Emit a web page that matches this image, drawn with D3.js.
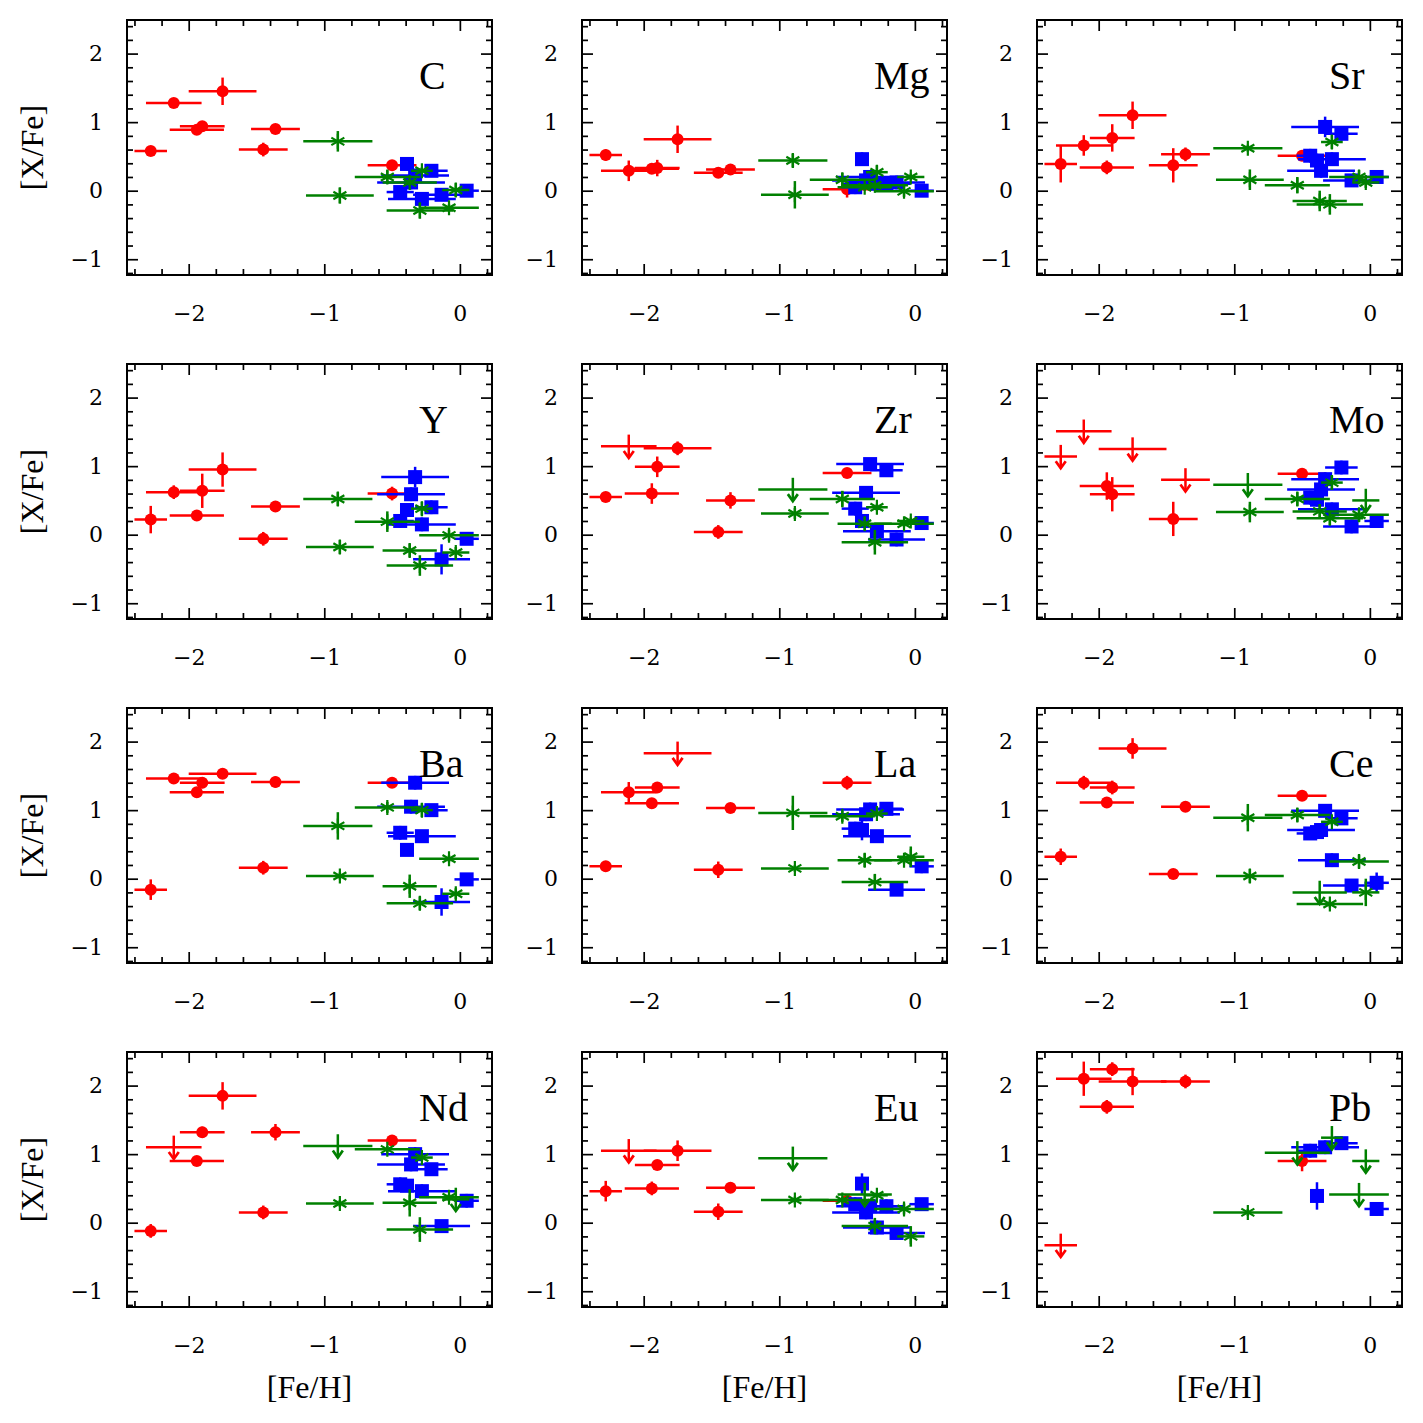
<!DOCTYPE html>
<html>
<head>
<meta charset="utf-8">
<script src="https://cdn.jsdelivr.net/npm/d3@7"></script>
<style>
body { margin: 0; background: #fff; }
text { font-family: "Liberation Serif", "DejaVu Serif", serif; fill: #000; }
</style>
</head>
<body>
<div id="chart"></div>
<script>
const elements = ["C", "Mg", "Sr", "Y", "Zr", "Mo", "Ba", "La", "Ce", "Nd", "Eu", "Pb"]

// [Fe/H] of each star in the three groups
const redFeH = [-2.28, -2.11, -1.94, -1.90, -1.75, -1.45, -1.36, -0.50]
const redFeHErr = [0.12, 0.205, 0.20, 0.165, 0.25, 0.18, 0.18, 0.18]
const greenFeH = [-0.90, -0.885, -0.535, -0.37, -0.295, -0.28, -0.08, -0.03]
const greenFeHErr = [0.255, 0.25, 0.24, 0.20, 0.245, 0.08, 0.22, 0.10]
const blueFeH = [-0.44, -0.39, -0.36, -0.33, -0.28, -0.21, -0.135, 0.05]
const blueFeHErr = [0.10, 0.05, 0.25, 0.25, 0.25, 0.12, 0.21, 0.09]

// [X/Fe], one row per element (same order as elements), null = no value
const redXFe = [
    [0.58, 1.28, 0.89, 0.94, 1.45, 0.60, 0.90, 0.37],
    [0.52, 0.29, 0.32, 0.33, 0.75, 0.26, 0.31, 0.02],
    [0.39, 0.66, 0.34, 0.77, 1.10, 0.37, 0.53, 0.51],
    [0.22, 0.62, 0.28, 0.64, 0.95, -0.06, 0.41, 0.60],
    [0.55, 1.29, 0.60, 0.99, 1.26, 0.04, 0.50, 0.90],
    [1.14, 1.51, 0.71, 0.59, 1.25, 0.23, 0.80, 0.89],
    [-0.16, 1.46, 1.26, 1.40, 1.53, 0.16, 1.41, 1.40],
    [0.18, 1.26, 1.10, 1.33, 1.83, 0.13, 1.03, 1.40],
    [0.32, 1.40, 1.11, 1.33, 1.90, 0.07, 1.05, 1.21],
    [-0.12, 1.10, 0.90, 1.32, 1.85, 0.15, 1.32, 1.20],
    [0.46, 1.05, 0.50, 0.84, 1.05, 0.16, 0.51, 0.32],
    [-0.33, 2.10, 1.69, 2.24, 2.06, null, 2.06, 0.90]
]
const redXFeErr = [
    [0.05, 0.05, 0.05, 0.05, 0.20, 0.10, 0.05, 0.05],
    [0.08, 0.15, 0.05, 0.12, 0.20, 0.05, 0.05, 0.12],
    [0.27, 0.15, 0.10, 0.20, 0.20, 0.25, 0.10, 0.05],
    [0.20, 0.10, 0.05, 0.25, 0.25, 0.10, 0.05, 0.10],
    [0.05, 0.17, 0.15, 0.15, 0.10, 0.10, 0.12, 0.05],
    [0.17, 0.17, 0.20, 0.25, 0.17, 0.25, 0.17, 0.07],
    [0.15, 0.05, 0.05, 0.08, 0.05, 0.10, 0.08, 0.05],
    [0.05, 0.15, 0.05, 0.08, 0.17, 0.12, 0.05, 0.10],
    [0.12, 0.10, 0.05, 0.10, 0.15, 0.05, 0.05, 0.05],
    [0.10, 0.17, 0.05, 0.08, 0.20, 0.10, 0.12, 0.05],
    [0.15, 0.17, 0.10, 0.05, 0.15, 0.12, 0.05, 0.05],
    [0.17, 0.25, 0.10, 0.10, 0.20, 0, 0.10, 0.15]
]
const redLimits = [[], [], [], [], [1], [0, 1, 4, 6], [], [4], [], [1], [1], [0]]

const greenXFe = [
    [0.72, -0.07, 0.20, 0.12, -0.29, 0.29, -0.25, 0.01],
    [0.44, -0.06, 0.16, 0.05, 0.08, 0.27, -0.01, 0.20],
    [0.62, 0.16, 0.08, -0.15, -0.20, 0.71, 0.20, 0.12],
    [0.52, -0.18, 0.19, -0.23, -0.45, 0.38, -0.01, -0.26],
    [0.66, 0.31, 0.52, 0.16, -0.11, 0.40, 0.16, 0.20],
    [0.73, 0.33, 0.52, 0.34, 0.24, 0.76, 0.29, 0.50],
    [0.77, 0.04, 1.04, -0.11, -0.36, 1.00, 0.29, -0.22],
    [0.96, 0.15, 0.91, 0.27, -0.05, 0.95, 0.27, 0.32],
    [0.89, 0.04, 0.93, -0.20, -0.37, 0.83, 0.25, -0.20],
    [1.12, 0.28, 1.07, 0.29, -0.10, 0.95, 0.37, 0.34],
    [0.94, 0.33, 0.33, 0.41, -0.05, 0.40, 0.20, -0.20],
    [0.15, null, 1.02, null, null, 1.24, 0.41, 0.90]
]
const greenXFeErr = [
    [0.15, 0.12, 0.10, 0.05, 0.12, 0.05, 0.05, 0.10],
    [0.10, 0.20, 0.10, 0.05, 0.05, 0.10, 0.08, 0.05],
    [0.05, 0.15, 0.12, 0.15, 0.15, 0.10, 0.10, 0.08],
    [0.10, 0.10, 0.15, 0.10, 0.15, 0.10, 0.08, 0.08],
    [0.17, 0.08, 0.12, 0.10, 0.18, 0.05, 0.05, 0.05],
    [0.17, 0.15, 0.10, 0.10, 0.10, 0.10, 0.10, 0.17],
    [0.20, 0.05, 0.08, 0.17, 0.10, 0.10, 0.05, 0.08],
    [0.25, 0.05, 0.08, 0.10, 0.12, 0.05, 0.05, 0.15],
    [0.20, 0.10, 0.10, 0.17, 0.05, 0.05, 0.10, 0.20],
    [0.17, 0.05, 0.05, 0.20, 0.18, 0.05, 0.05, 0.17],
    [0.17, 0.05, 0.05, 0.17, 0.12, 0.05, 0.08, 0.15],
    [0.05, 0, 0.17, 0, 0, 0.17, 0.17, 0.17]
]
const greenLimits = [[], [], [], [], [0], [0, 7], [], [], [3], [0, 7], [0, 3], [2, 5, 6, 7]]

const blueXFe = [
    [-0.02, 0.39, 0.12, 0.22, -0.12, 0.29, -0.06, 0.00],
    [0.05, 0.46, 0.15, 0.20, 0.10, 0.10, 0.12, 0.00],
    [0.51, 0.44, 0.29, 0.93, 0.46, 0.83, 0.15, 0.20],
    [0.20, 0.36, 0.59, 0.84, 0.15, 0.40, -0.36, -0.06],
    [0.38, 0.20, 0.61, 1.03, 0.05, 0.94, -0.07, 0.17],
    [0.54, 0.51, 0.66, 0.81, 0.37, 0.98, 0.12, 0.20],
    [0.67, 0.42, 1.05, 1.40, 0.62, 1.00, -0.34, -0.01],
    [0.73, 0.71, 0.94, 1.01, 0.62, 1.02, -0.16, 0.18],
    [0.66, 0.68, 0.71, 0.99, 0.27, 0.88, -0.10, -0.06],
    [0.56, 0.54, 0.85, 1.00, 0.46, 0.78, -0.05, 0.32],
    [0.27, 0.57, 0.15, 0.24, -0.07, 0.24, -0.15, 0.27],
    [1.05, 0.39, null, 1.10, null, 1.16, null, 0.20]
]
const blueXFeErr = [
    [0.05, 0.05, 0.10, 0.10, 0.08, 0.05, 0.05, 0.05],
    [0.10, 0.10, 0.10, 0.10, 0.10, 0.10, 0.10, 0.05],
    [0.10, 0.10, 0.10, 0.15, 0.10, 0.10, 0.08, 0.05],
    [0.10, 0.10, 0.10, 0.15, 0.10, 0.10, 0.22, 0.05],
    [0.10, 0.05, 0.10, 0.08, 0.10, 0.05, 0.10, 0.05],
    [0.10, 0.10, 0.10, 0.10, 0.10, 0.10, 0.10, 0.05],
    [0.10, 0.05, 0.10, 0.10, 0.05, 0.05, 0.20, 0.05],
    [0.10, 0.15, 0.10, 0.10, 0.05, 0.05, 0.05, 0.10],
    [0.05, 0.10, 0.10, 0.05, 0.10, 0.05, 0.05, 0.15],
    [0.10, 0.05, 0.10, 0.10, 0.10, 0.05, 0.05, 0.10],
    [0.10, 0.15, 0.10, 0.10, 0.10, 0.10, 0.05, 0.05],
    [0.10, 0.20, 0, 0.10, 0, 0.10, 0, 0.10]
]
const blueLimits = [[], [], [], [], [], [], [], [], [], [], [], []]

const xTicks = [-2, -1, 0]
const yTicks = [-1, 0, 1, 2]

const panelW = 365, panelH = 255
const colStep = 455, rowStep = 344
const padLeft = 127, padTop = 20

const svg = d3.select("#chart")
    .append("svg")
    .attr("width", 1423)
    .attr("height", 1423)

const x = d3.scaleLinear().domain([-2.455, 0.237]).range([0, panelW])
const y = d3.scaleLinear().domain([-1.23, 2.49]).range([panelH, 0])

const xMinor = d3.range(-2.4, 0.21, 0.2).filter(v => Math.abs(v - Math.round(v)) > 0.01)
const yMinor = d3.range(-1.2, 2.41, 0.2).filter(v => Math.abs(v - Math.round(v)) > 0.01)

function asterisk(r){
    let p = ""
    ;[90, 30, 150].forEach(a => {
        const dx = r * Math.cos(a * Math.PI / 180), dy = r * Math.sin(a * Math.PI / 180)
        p += `M${-dx},${-dy}L${dx},${dy}`
    })
    return p
}

function drawSeries(g, feh, fehErr, vals, errs, limits, color, marker){
    const pts = vals.map((v, i) => ({x: feh[i], xe: fehErr[i], y: v, ye: errs[i], ul: limits.includes(i)}))
        .filter(d => d.y !== null)

    const s = g.append("g")
    // horizontal error bars
    s.selectAll(".xerr").data(pts).enter()
        .append("line")
        .attr("x1", d => x(d.x - d.xe))
        .attr("x2", d => x(d.x + d.xe))
        .attr("y1", d => y(d.y))
        .attr("y2", d => y(d.y))
        .attr("stroke", color)
        .attr("stroke-width", 2.5)
    // vertical error bars
    s.selectAll(".yerr").data(pts).enter()
        .append("line")
        .attr("x1", d => x(d.x))
        .attr("x2", d => x(d.x))
        .attr("y1", d => y(d.y + d.ye))
        .attr("y2", d => y(d.y - d.ye))
        .attr("stroke", color)
        .attr("stroke-width", 2.5)
    // upper limits get an arrow head
    s.selectAll(".ul").data(pts.filter(d => d.ul)).enter()
        .append("path")
        .attr("transform", d => `translate(${x(d.x)},${y(d.y - d.ye)})`)
        .attr("d", "M-5,-7L0,0L5,-7")
        .attr("fill", "none")
        .attr("stroke", color)
        .attr("stroke-width", 2.7)

    const m = pts.filter(d => !d.ul)
    if(marker == "circle"){
        s.selectAll("circle").data(m).enter()
            .append("circle")
            .attr("cx", d => x(d.x))
            .attr("cy", d => y(d.y))
            .attr("r", 6)
            .attr("fill", color)
    } else if(marker == "square"){
        s.selectAll("rect").data(m).enter()
            .append("rect")
            .attr("x", d => x(d.x) - 7)
            .attr("y", d => y(d.y) - 7)
            .attr("width", 14)
            .attr("height", 14)
            .attr("fill", color)
    } else {
        s.selectAll(".ast").data(m).enter()
            .append("path")
            .attr("transform", d => `translate(${x(d.x)},${y(d.y)})`)
            .attr("d", asterisk(7.5))
            .attr("stroke", color)
            .attr("stroke-width", 2.2)
            .attr("fill", "none")
    }
}

function styleAxis(a){
    a.select(".domain").remove()
    a.selectAll(".tick line").attr("stroke", "#000").attr("stroke-width", 1.7)
    a.selectAll(".tick text")
        .style("font-size", "22px")
        .style("font-family", "'DejaVu Serif', serif")
}

elements.forEach((el, i) => {
    const col = i % 3, row = Math.floor(i / 3)
    const g = svg.append("g")
        .attr("transform", `translate(${padLeft + colStep * col}, ${padTop + rowStep * row})`)

    drawSeries(g, redFeH, redFeHErr, redXFe[i], redXFeErr[i], redLimits[i], "#ff0000", "circle")
    drawSeries(g, blueFeH, blueFeHErr, blueXFe[i], blueXFeErr[i], blueLimits[i], "#0000ff", "square")
    drawSeries(g, greenFeH, greenFeHErr, greenXFe[i], greenXFeErr[i], greenLimits[i], "#008000", "asterisk")

    // major + minor ticks on every side, pointing in
    g.append("g").attr("transform", `translate(0,${panelH})`)
        .call(d3.axisBottom(x).tickValues(xTicks).tickSize(-11).tickPadding(30).tickFormat(d3.format("d")))
        .call(styleAxis)
    g.append("g").attr("transform", `translate(0,${panelH})`)
        .call(d3.axisBottom(x).tickValues(xMinor).tickSize(-6).tickFormat(""))
        .call(styleAxis)
    g.append("g")
        .call(d3.axisTop(x).tickValues(xTicks).tickSize(-11).tickFormat(""))
        .call(styleAxis)
    g.append("g")
        .call(d3.axisTop(x).tickValues(xMinor).tickSize(-6).tickFormat(""))
        .call(styleAxis)
    g.append("g")
        .call(d3.axisLeft(y).tickValues(yTicks).tickSize(-11).tickPadding(24).tickFormat(d3.format("d")))
        .call(styleAxis)
    g.append("g")
        .call(d3.axisLeft(y).tickValues(yMinor).tickSize(-6).tickFormat(""))
        .call(styleAxis)
    g.append("g").attr("transform", `translate(${panelW},0)`)
        .call(d3.axisRight(y).tickValues(yTicks).tickSize(-11).tickFormat(""))
        .call(styleAxis)
    g.append("g").attr("transform", `translate(${panelW},0)`)
        .call(d3.axisRight(y).tickValues(yMinor).tickSize(-6).tickFormat(""))
        .call(styleAxis)

    g.append("rect")
        .attr("width", panelW)
        .attr("height", panelH)
        .attr("fill", "none")
        .attr("stroke", "#000")
        .attr("stroke-width", 2)

    g.append("text")
        .attr("x", 292)
        .attr("y", 69)
        .attr("font-size", 40)
        .text(el)

    if(col == 0){
        g.append("text")
            .attr("transform", `translate(-84,${panelH / 2}) rotate(-90)`)
            .attr("text-anchor", "middle")
            .attr("font-size", 32)
            .text("[X/Fe]")
    }
    if(row == 3){
        g.append("text")
            .attr("x", panelW / 2)
            .attr("y", panelH + 91)
            .attr("text-anchor", "middle")
            .attr("font-size", 32)
            .text("[Fe/H]")
    }
})
</script>
</body>
</html>
